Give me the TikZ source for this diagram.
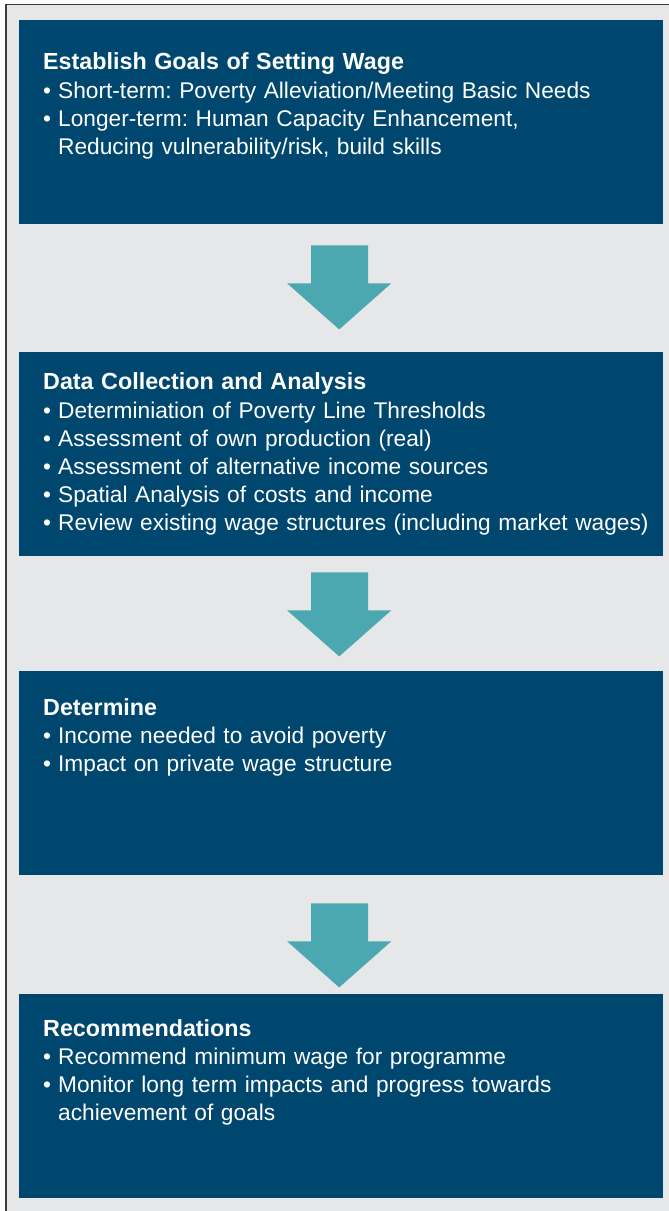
\documentclass[tikz,border=0pt]{standalone}
\usepackage{fontspec}
\setmainfont{Liberation Sans}

\definecolor{boxblue}{RGB}{0,71,111}
\definecolor{arrowteal}{RGB}{75,168,176}
\definecolor{panelgrey}{RGB}{230,231,232}
\definecolor{framegrey}{RGB}{60,60,60}

\newcommand{\bul}{\makebox[15pt][l]{\textbullet}}
\newcommand{\stagetitle}[1]{{\fontsize{23.3}{28}\selectfont\bfseries #1}}

\begin{document}
\begin{tikzpicture}[x=1pt, y=-1pt,
	stage/.style={fill=boxblue, draw=none, inner sep=0pt, minimum width=644pt, minimum height=204pt, anchor=north west},
	stagetext/.style={text=white, inner sep=0pt, anchor=base west, text width=625pt, align=left, font=\fontsize{22.7}{28}\selectfont\frenchspacing}]

\useasboundingbox (0,0) rectangle (669,1211);

%% PANEL
\fill[panelgrey] (6,4.5) rectangle (669,1211);
\draw[framegrey, line width=1.5pt] (6,1211) -- (6,4.5) -- (669,4.5);

%% STAGES
\node[stage] (goals) at (19,20) {};
\node[stage] (data) at (19,352) {};
\node[stage] (determine) at (19,671) {};
\node[stage] (recs) at (19,994) {};

% Text
\node[stagetext] (goalstext) at ([shift={(24,49)}]goals.north west)
	{\stagetitle{Establish Goals of Setting Wage}\\[1pt]
	\bul Short-term: Poverty Alleviation/Meeting Basic Needs\\
	\bul Longer-term: Human Capacity Enhancement,\\
	\hspace*{15pt}Reducing vulnerability/risk, build skills};
\node[stagetext] (datatext) at ([shift={(24,37)}]data.north west)
	{\stagetitle{Data Collection and Analysis}\\[1pt]
	\bul Determiniation of Poverty Line Thresholds\\
	\bul Assessment of own production (real)\\
	\bul Assessment of alternative income sources\\
	\bul Spatial Analysis of costs and income\\
	\bul Review existing wage structures (including market wages)};
\node[stagetext] (determinetext) at ([shift={(24,44)}]determine.north west)
	{\stagetitle{Determine}\\
	\bul Income needed to avoid poverty\\
	\bul Impact on private wage structure};
\node[stagetext] (recstext) at ([shift={(24,42)}]recs.north west)
	{\stagetitle{Recommendations}\\
	\bul Recommend minimum wage for programme\\
	\bul Monitor long term impacts and progress towards\\
	\hspace*{15pt}achievement of goals};

%% ARROWS
\foreach \a/\gap in {goals/21, data/16, determine/28}
{
	\fill[arrowteal] ([shift={(-30,\gap)}]\a.south) -- ++(57,0) -- ++(0,38) -- ++(23,0)
		-- ++(-52,46) -- ++(-52,-46) -- ++(24,0) -- cycle;
}

\end{tikzpicture}
\end{document}
